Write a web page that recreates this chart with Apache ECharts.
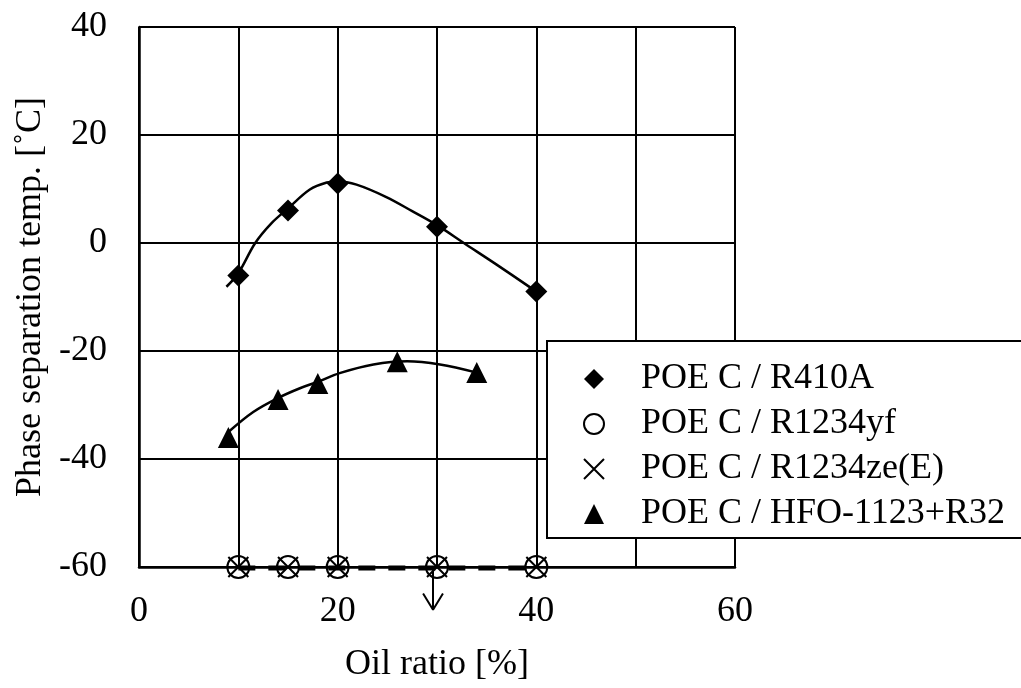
<!DOCTYPE html>
<html>
<head>
<meta charset="utf-8">
<script src="https://cdn.jsdelivr.net/npm/echarts@6/dist/echarts.min.js"></script>
<style>html,body{margin:0;padding:0;background:#fff}#c{width:1021px;height:688px}</style>
</head>
<body>
<div id="c"></div>
<script>
// ---- data ----
const xTickLabels = [0, 20, 40, 60];
const yTickLabels = [-60, -40, -20, 0, 20, 40];
const seriesNames = ['POE C / R410A', 'POE C / R1234yf', 'POE C / R1234ze(E)', 'POE C / HFO-1123+R32'];

const r410aX = [10, 15, 20, 30, 40];
const r410aY = [-6, 6, 11, 3, -9];

const r1234yfX = [10, 15, 20, 30, 40];
const r1234yfY = [-60, -60, -60, -60, -60];

const r1234zeX = [10, 15, 20, 30, 40];
const r1234zeY = [-60, -60, -60, -60, -60];

const hfoX = [9, 14, 18, 26, 34];
const hfoY = [-36, -29, -26, -22, -24];

// fitted trend curves
const r410aTrendX = [8.8, 10, 11.7, 13.3, 15, 17.2, 18.9, 20, 21.9, 24.9, 27.5, 30, 32.7, 36, 40];
const r410aTrendY = [-8.1, -5.6, 0, 3.6, 6.4, 9.9, 11.2, 11.4, 10.8, 8.5, 5.9, 3.3, 0, -4, -9];

const hfoTrendX = [9, 11.5, 14, 16.2, 18, 20.2, 23.6, 27, 30.3, 34];
const hfoTrendY = [-35, -31.3, -28.7, -26.9, -25.7, -24.1, -22.5, -21.9, -22.5, -24];

// dashed "no separation above" line and the "below -60" arrow
const dashX = [10, 40];
const dashY = [-60.2, -60.2];
const arrowShaftX = [29.6, 29.6];
const arrowShaftY = [-60, -67.9];
const arrowHeadX = [28.6, 29.6, 30.6];
const arrowHeadY = [-64.9, -67.9, -64.9];

const zip = (xs, ys) => xs.map((x, i) => [x, ys[i]]);

// ---- chart ----
const FONT = "'Liberation Serif', 'Times New Roman', serif";
const chart = echarts.init(document.getElementById('c'), null, {renderer: 'canvas'});
const xPath = 'path://M0,0L10,10M10,0L0,10';

chart.setOption({
  animation: false,
  backgroundColor: '#fff',
  textStyle: {fontFamily: FONT, color: '#000'},
  grid: {left: 139, right: 286, top: 27, bottom: 121, containLabel: false},
  xAxis: {
    type: 'value', min: 0, max: 60, interval: 10,
    name: 'Oil ratio [%]', nameLocation: 'middle', nameGap: 80,
    nameTextStyle: {fontSize: 36, fontFamily: FONT, color: '#000'},
    axisLine: {show: true, onZero: false, lineStyle: {color: '#000', width: 2.5}},
    axisTick: {show: false},
    axisLabel: {fontSize: 36, fontFamily: FONT, color: '#000', margin: 27,
      formatter: v => xTickLabels.includes(v) ? String(v) : ''},
    splitLine: {show: true, lineStyle: {color: '#000', width: 2}}
  },
  yAxis: {
    type: 'value', min: -60, max: 40, interval: 20,
    name: 'Phase separation temp. [\u02DAC]', nameLocation: 'middle', nameGap: 90,
    nameTextStyle: {fontSize: 36, fontFamily: FONT, color: '#000'},
    axisLine: {show: true, onZero: false, lineStyle: {color: '#000', width: 2.5}},
    axisTick: {show: false},
    axisLabel: {fontSize: 36, fontFamily: FONT, color: '#000', margin: 32,
      formatter: v => yTickLabels.includes(v) ? String(v) : ''},
    splitLine: {show: true, lineStyle: {color: '#000', width: 2}}
  },
  legend: {
    orient: 'vertical', left: 547, top: 341,
    itemWidth: 20, itemHeight: 20, itemGap: 9,
    padding: [20, 40, 6, 36],
    symbolKeepAspect: true,
    backgroundColor: '#fff', borderColor: '#000', borderWidth: 2, borderRadius: 0,
    selectedMode: false,
    textStyle: {fontSize: 36, fontFamily: FONT, color: '#000', padding: [0, 0, 0, 32]},
    data: [
      {name: seriesNames[0], icon: 'diamond'},
      {name: seriesNames[1], icon: 'circle', itemStyle: {color: 'rgba(0,0,0,0)', borderColor: '#000', borderWidth: 2}},
      {name: seriesNames[2], icon: xPath, itemStyle: {color: 'rgba(0,0,0,0)', borderColor: '#000', borderWidth: 2}},
      {name: seriesNames[3], icon: 'triangle'}
    ]
  },
  series: [
    {type: 'line', name: 'r410aTrend', data: zip(r410aTrendX, r410aTrendY), smooth: 0.35,
      showSymbol: false, symbol: 'none', lineStyle: {color: '#000', width: 2.5}, z: 3, silent: true},
    {type: 'line', name: 'hfoTrend', data: zip(hfoTrendX, hfoTrendY), smooth: 0.35,
      showSymbol: false, symbol: 'none', lineStyle: {color: '#000', width: 2.5}, z: 3, silent: true},
    {type: 'line', name: 'dash', data: zip(dashX, dashY), symbol: 'none',
      lineStyle: {color: '#000', width: 5, type: [17, 13]}, z: 3, clip: false, silent: true},
    {type: 'line', name: 'arrowShaft', data: zip(arrowShaftX, arrowShaftY), symbol: 'none',
      lineStyle: {color: '#000', width: 2}, z: 3, clip: false, silent: true},
    {type: 'line', name: 'arrowHead', data: zip(arrowHeadX, arrowHeadY), symbol: 'none',
      lineStyle: {color: '#000', width: 2}, z: 3, clip: false, silent: true},
    {type: 'scatter', name: seriesNames[0], data: zip(r410aX, r410aY), symbol: 'diamond', symbolSize: 22,
      itemStyle: {color: '#000', opacity: 1}, z: 5, clip: false},
    {type: 'scatter', name: seriesNames[1], data: zip(r1234yfX, r1234yfY), symbol: 'circle', symbolSize: 22,
      itemStyle: {color: 'rgba(0,0,0,0)', borderColor: '#000', borderWidth: 2, opacity: 1}, z: 5, clip: false},
    {type: 'scatter', name: seriesNames[2], data: zip(r1234zeX, r1234zeY), symbol: xPath, symbolSize: 20,
      itemStyle: {color: 'rgba(0,0,0,0)', borderColor: '#000', borderWidth: 2, opacity: 1}, z: 5, clip: false},
    {type: 'scatter', name: seriesNames[3], data: zip(hfoX, hfoY), symbol: 'triangle', symbolSize: 21,
      itemStyle: {color: '#000', opacity: 1}, z: 5, clip: false}
  ]
});
</script>
</body>
</html>
